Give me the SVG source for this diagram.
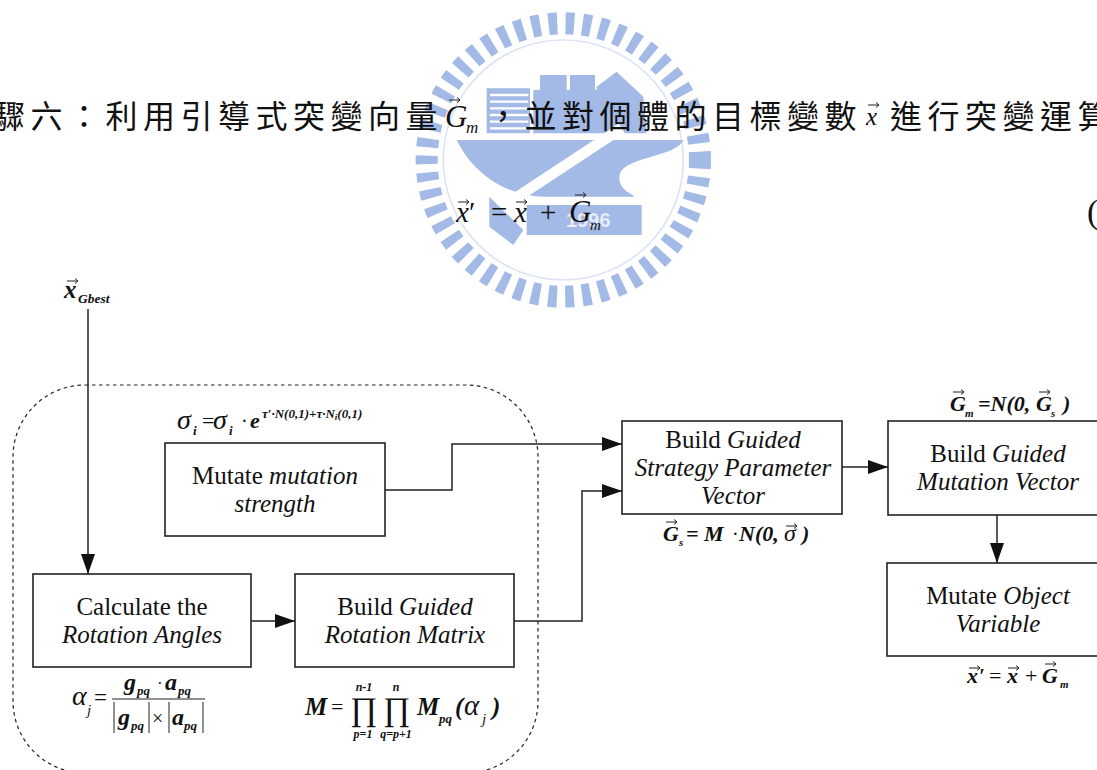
<svg xmlns="http://www.w3.org/2000/svg" xmlns:xlink="http://www.w3.org/1999/xlink" width="1097" height="770" viewBox="0 0 1097 770">
<style>
text{font-family:"Liberation Serif","Noto Sans CJK TC",serif;fill:#111}
.lbl{font-size:25px;text-anchor:middle}
.i{font-style:italic}
.m{font-style:italic;font-weight:bold}
.box{fill:none;stroke:#222;stroke-width:1.6}
.con{fill:none;stroke:#222;stroke-width:1.5}
.cjk{font-family:"Noto Sans CJK TC",sans-serif;font-size:32px;font-weight:400;letter-spacing:5.5px}
.wm{fill:#a3b9e6}
</style>
<defs>
<marker id="ah" markerWidth="20" markerHeight="14" refX="20" refY="7" orient="auto" markerUnits="userSpaceOnUse"><path d="M0 0L20 7L0 14Z" fill="#111"/></marker>
<path id="v" d="M0 0H11M8 -2.5L11 0L8 2.5" fill="none" stroke="#222" stroke-width="1"/>
<filter id="soft" x="-5%" y="-5%" width="110%" height="110%"><feGaussianBlur stdDeviation="1.6"/></filter>
</defs>
<rect width="1097" height="770" fill="#fff"/>
<g id="watermark" transform="translate(400 0) scale(.3333)" filter="url(#soft)">
<circle cx="490" cy="480" r="410" fill="none" stroke="#a3b9e6" stroke-width="66" stroke-dasharray="26 25"/>
<circle cx="490" cy="480" r="360" fill="none" stroke="#dde4f5" stroke-width="5"/>
<path class="wm" d="M260 265H390V400H260Z"/>
<path d="M270 285H385M270 305H385M270 325H385M270 345H385M270 365H385M270 385H385" stroke="#fff" stroke-width="7"/>
<path class="wm" d="M420 225H500V300H420ZM510 225H585V300H510ZM590 260L650 215L730 290L740 400H590Z"/>
<path class="wm" d="M400 270H600V400H400Z"/>
<path class="wm" d="M170 420H850C830 470 680 470 660 520C650 560 680 575 705 590H430C370 590 240 560 170 420Z"/>
<path d="M300 625L665 385" stroke="#fff" stroke-width="32"/>
<path class="wm" d="M380 615H725V705H380Z"/>
<path class="wm" d="M268 590L370 690L340 735L268 680Z"/>
<text x="565" y="680" text-anchor="middle" style="font-family:'Liberation Sans',sans-serif;fill:#e8edf8;font-size:60px;font-weight:bold">1996</text>
</g>
<g id="heading">
<text class="cjk" x="-7" y="128">驟六&#xFF1A;利用引導式突變向量</text>
<text class="i" x="445" y="127" style="font-size:31px">G</text><text class="i" x="466" y="133" style="font-size:17px">m</text>
<use xlink:href="#v" x="449" y="100"/>
<text class="cjk" x="487" y="128">&#xFF0C;並對個體的目標變數</text>
<text class="i" x="866" y="125" style="font-size:25px">x</text>
<use xlink:href="#v" x="868" y="105"/>
<text class="cjk" x="890" y="128">進行突變運算</text>
</g>
<g id="equation">
<text class="i" x="456" y="222" style="font-size:29px">x</text><use xlink:href="#v" x="458" y="202"/>
<text x="469" y="222" style="font-size:29px">′</text>
<text x="491" y="222" style="font-size:29px">=</text>
<text class="i" x="514" y="222" style="font-size:29px">x</text><use xlink:href="#v" x="516" y="202"/>
<text x="540" y="222" style="font-size:29px">+</text>
<text class="i" x="569" y="222" style="font-size:31px">G</text><use xlink:href="#v" x="575" y="195"/>
<text class="i" x="590" y="230" style="font-size:15px">m</text>
<text x="1087" y="223" style="font-size:34px">(</text>
</g>
<g id="connectors">
<path class="con" d="M88 309V574" marker-end="url(#ah)"/>
<path class="con" d="M385 490H452V444H622" marker-end="url(#ah)"/>
<path class="con" d="M514 621H582V491H622" marker-end="url(#ah)"/>
<path class="con" d="M251 621H295" marker-end="url(#ah)"/>
<path class="con" d="M842 467H888" marker-end="url(#ah)"/>
<path class="con" d="M997 515V563" marker-end="url(#ah)"/>
</g>
<rect id="group-boundary" x="13" y="385" width="525" height="388" rx="72" ry="72" fill="none" stroke="#222" stroke-width="1.2" stroke-dasharray="3.5 3.5"/>
<g id="n-gbest">
<text class="m" x="64" y="298" style="font-size:25px">x</text><use xlink:href="#v" x="67" y="281"/>
<text class="m" x="78" y="303" style="font-size:13.5px">Gbest</text>
</g>
<g id="n-mutate-strength">
<rect class="box" x="165" y="443" width="220" height="93"/>
<text class="lbl" x="275" y="484">Mutate <tspan class="i">mutation</tspan></text>
<text class="lbl i" x="275" y="512">strength</text>
<text class="i" x="177" y="429" style="font-size:28px">σ</text><text class="m" x="193" y="435" style="font-size:13px">i</text>
<text x="202" y="428" style="font-size:22px">=</text>
<text class="i" x="213" y="429" style="font-size:28px">σ</text><text class="m" x="229" y="435" style="font-size:13px">i</text>
<text x="241" y="428" style="font-size:20px">·</text>
<text class="m" x="250" y="428" style="font-size:22px">e</text>
<text class="m" x="262" y="418" style="font-size:13px">τ′·N(0,1)+τ·N<tspan font-size="9" dy="2">i</tspan><tspan dy="-2">(0,1)</tspan></text>
</g>
<g id="n-calc-angles">
<rect class="box" x="33" y="574" width="218" height="93"/>
<text class="lbl" x="142" y="615">Calculate the</text>
<text class="lbl i" x="142" y="643">Rotation Angles</text>
<text class="i" x="72" y="705" style="font-size:28px">α</text><text class="i" x="87" y="715" style="font-size:15px">j</text>
<text x="94" y="705" style="font-size:23px">=</text>
<path d="M112 699H205" stroke="#222" stroke-width="1"/>
<text class="m" x="124" y="690" style="font-size:24px">g</text><text class="m" x="137" y="695" style="font-size:13px">pq</text>
<text x="157" y="689" style="font-size:17px">·</text>
<text class="m" x="165" y="690" style="font-size:24px">a</text><text class="m" x="178" y="695" style="font-size:13px">pq</text>
<path d="M114 702V733M149 702V733M169 702V733M203 702V733" stroke="#222" stroke-width="1"/>
<text class="m" x="118" y="725" style="font-size:24px">g</text><text class="m" x="131" y="730" style="font-size:13px">pq</text>
<text x="152" y="725" style="font-size:20px">×</text>
<text class="m" x="172" y="725" style="font-size:24px">a</text><text class="m" x="184" y="730" style="font-size:13px">pq</text>
</g>
<g id="n-rotation-matrix">
<rect class="box" x="295" y="574" width="219" height="93"/>
<text class="lbl" x="405" y="615">Build <tspan class="i">Guided</tspan></text>
<text class="lbl i" x="405" y="643">Rotation Matrix</text>
<text class="m" x="305" y="715" style="font-size:25px">M</text>
<text x="331" y="714" style="font-size:22px">=</text>
<text x="350" y="720" style="font-size:33px">∏</text>
<text x="383" y="720" style="font-size:33px">∏</text>
<text class="m" x="364" y="691" text-anchor="middle" style="font-size:12px">n-1</text>
<text class="m" x="396" y="691" text-anchor="middle" style="font-size:12px">n</text>
<text class="m" x="363" y="738" text-anchor="middle" style="font-size:12px">p=1</text>
<text class="m" x="396" y="738" text-anchor="middle" style="font-size:12px">q=p+1</text>
<text class="m" x="417" y="715" style="font-size:25px">M</text><text class="m" x="439" y="723" style="font-size:13px">pq</text>
<text class="m" x="455" y="715" style="font-size:25px">(</text><text class="i" x="464" y="715" style="font-size:29px">α</text><text class="i" x="482" y="724" style="font-size:15px">j</text><text class="m" x="492" y="715" style="font-size:25px">)</text>
</g>
<g id="n-strategy-vector">
<rect class="box" x="622" y="421" width="220" height="93"/>
<text class="lbl" x="733" y="448">Build <tspan class="i">Guided</tspan></text>
<text class="lbl i" x="733" y="476">Strategy Parameter</text>
<text class="lbl i" x="733" y="504">Vector</text>
<text class="m" x="663" y="541" style="font-size:22px">G</text><use xlink:href="#v" x="666" y="522"/>
<text class="m" x="679" y="546" style="font-size:11px">s</text>
<text class="m" x="686" y="541" style="font-size:22px">=</text>
<text class="m" x="704" y="541" style="font-size:22px">M</text>
<text x="732" y="541" style="font-size:20px">·</text>
<text class="m" x="739" y="541" style="font-size:22px">N(0,</text>
<text class="i" x="784" y="541" style="font-size:24px">σ</text><use xlink:href="#v" x="786" y="526"/>
<text class="m" x="802" y="541" style="font-size:22px">)</text>
</g>
<g id="n-mutation-vector">
<rect class="box" x="888" y="421" width="211" height="94"/>
<text class="lbl" x="998" y="462">Build <tspan class="i">Guided</tspan></text>
<text class="lbl i" x="998" y="490">Mutation Vector</text>
<text class="m" x="950" y="411" style="font-size:22px">G</text><use xlink:href="#v" x="953" y="392"/>
<text class="m" x="965" y="417" style="font-size:11px">m</text>
<text class="m" x="978" y="411" style="font-size:22px">=N(0,</text>
<text class="m" x="1036" y="411" style="font-size:22px">G</text><use xlink:href="#v" x="1039" y="392"/>
<text class="m" x="1051" y="417" style="font-size:11px">s</text>
<text class="m" x="1063" y="411" style="font-size:22px">)</text>
</g>
<g id="n-object-variable">
<rect class="box" x="887" y="563" width="212" height="93"/>
<text class="lbl" x="998" y="604">Mutate <tspan class="i">Object</tspan></text>
<text class="lbl i" x="998" y="632">Variable</text>
<text class="m" x="967" y="683" style="font-size:22px">x</text><use xlink:href="#v" x="969" y="668"/>
<text class="m" x="979" y="683" style="font-size:20px">′</text>
<text x="989" y="683" style="font-size:22px">=</text>
<text class="m" x="1007" y="683" style="font-size:22px">x</text><use xlink:href="#v" x="1008" y="668"/>
<text x="1025" y="683" style="font-size:22px">+</text>
<text class="m" x="1042" y="683" style="font-size:22px">G</text><use xlink:href="#v" x="1045" y="664"/>
<text class="m" x="1060" y="688" style="font-size:11px">m</text>
</g>
</svg>
